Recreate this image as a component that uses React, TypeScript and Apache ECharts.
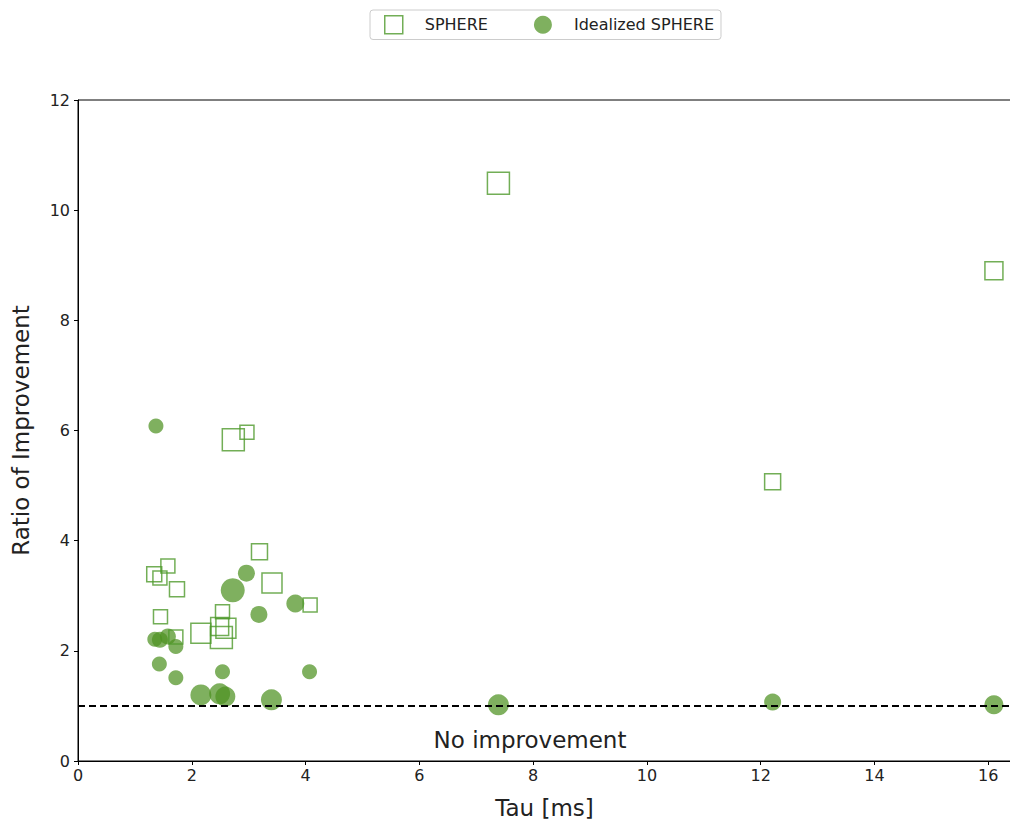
import React, { useEffect, useRef } from "react";
import * as echarts from "echarts";

const sphereTau = [7.39, 16.1, 12.21, 2.73, 2.97, 3.19, 3.41, 4.08, 1.34, 1.44, 1.58, 1.74, 1.45, 1.72, 2.16, 2.54, 2.49, 2.6, 2.52];
const sphereRatio = [10.49, 8.9, 5.07, 5.83, 5.97, 3.8, 3.23, 2.83, 3.39, 3.32, 3.54, 3.12, 2.62, 2.25, 2.32, 2.71, 2.44, 2.41, 2.24];
const sphereSize = [22, 18, 16, 22, 14, 16, 20, 14, 15, 14, 14, 15, 14, 14, 20, 14, 18, 20, 22];

const idealTau = [1.37, 1.35, 1.44, 1.58, 1.72, 1.43, 1.72, 2.96, 2.72, 3.18, 3.82, 2.54, 4.07, 2.16, 2.49, 2.59, 3.4, 7.39, 12.21, 16.1];
const idealRatio = [6.08, 2.21, 2.2, 2.26, 2.08, 1.76, 1.51, 3.41, 3.1, 2.66, 2.86, 1.62, 1.62, 1.2, 1.22, 1.17, 1.11, 1.02, 1.07, 1.02];
const idealSize = [15, 15, 16, 16, 15, 15, 15, 17, 24, 17, 18, 15, 15, 21, 21, 20, 21, 21, 17, 19];

const xTicks = [0, 2, 4, 6, 8, 10, 12, 14, 16];
const baseline = 1;

export default function App() {
  const ref = useRef<HTMLDivElement>(null);
  useEffect(() => {
    if (!ref.current) return;
    const chart = echarts.init(ref.current, null, { renderer: "svg" });
    const font = "DejaVu Sans";
    chart.setOption({
      animation: false,
      textStyle: { fontFamily: font },
      legend: {
        top: 10,
        left: 370,
        itemGap: 46,
        itemWidth: 18,
        itemHeight: 18,
        padding: [5, 7, 5, 14],
        borderColor: "#cccccc",
        borderWidth: 1,
        borderRadius: 3,
        textStyle: { fontFamily: font, fontSize: 16, color: "#222", padding: [0, 0, 0, 17] },
        data: [
          { name: "SPHERE", icon: "rect", itemStyle: { color: "#ffffff", borderColor: "#4f9a2c", borderWidth: 1.5 } },
          { name: "Idealized SPHERE", icon: "circle", itemStyle: { color: "#4d9221", opacity: 0.72 } },
        ],
      },
      grid: {
        left: 78,
        right: -1,
        top: 100,
        bottom: 60,
        outerBoundsMode: "none",
        containLabel: false,
        show: true,
        borderColor: "#000",
        borderWidth: 1,
      },
      xAxis: {
        type: "value",
        min: 0,
        max: 16.4,
        interval: 2,
        name: "Tau [ms]",
        nameLocation: "middle",
        nameGap: 35,
        nameTextStyle: { fontSize: 23, color: "#222", fontFamily: font },
        axisLine: { show: true, lineStyle: { color: "#000" } },
        axisTick: { show: true, length: 4, lineStyle: { color: "#000" } },
        axisLabel: {
          fontSize: 16,
          color: "#222",
          fontFamily: font,
          margin: 6,
          showMaxLabel: false,
          formatter: (v: number) => (xTicks.includes(v) ? String(v) : ""),
        },
        splitLine: { show: false },
      },
      yAxis: {
        type: "value",
        min: 0,
        max: 12,
        interval: 2,
        name: "Ratio of Improvement",
        nameLocation: "middle",
        nameGap: 46,
        nameTextStyle: { fontSize: 23, color: "#222", fontFamily: font },
        axisLine: { show: true, lineStyle: { color: "#000" } },
        axisTick: { show: true, length: 4, lineStyle: { color: "#000" } },
        axisLabel: { fontSize: 16, color: "#222", fontFamily: font, margin: 8 },
        splitLine: { show: false },
      },
      series: [
        {
          name: "SPHERE",
          type: "scatter",
          symbol: "rect",
          data: sphereTau.map((t, i) => ({ value: [t, sphereRatio[i]], symbolSize: sphereSize[i] })),
          itemStyle: { color: "rgba(255,255,255,0)", borderColor: "#4f9a2c", borderWidth: 1.5 },
          z: 3,
        },
        {
          name: "Idealized SPHERE",
          type: "scatter",
          symbol: "circle",
          data: idealTau.map((t, i) => ({ value: [t, idealRatio[i]], symbolSize: idealSize[i] })),
          itemStyle: { color: "#4d9221", opacity: 0.72 },
          z: 2,
          markLine: {
            silent: true,
            symbol: ["none", "none"],
            lineStyle: { color: "#000", type: [7, 4], width: 2 },
            label: { show: false },
            data: [{ yAxis: baseline }],
          },
        },
      ],
      graphic: [
        {
          type: "text",
          x: 530,
          y: 740,
          style: {
            text: "No improvement",
            fontSize: 23,
            fill: "#222",
            fontFamily: font,
            textAlign: "center",
            textVerticalAlign: "middle",
          },
        },
      ],
    });
    return () => chart.dispose();
  }, []);
  return <div ref={ref} style={{ position: "absolute", left: 0, top: 0, width: 1010, height: 821 }} />;
}
